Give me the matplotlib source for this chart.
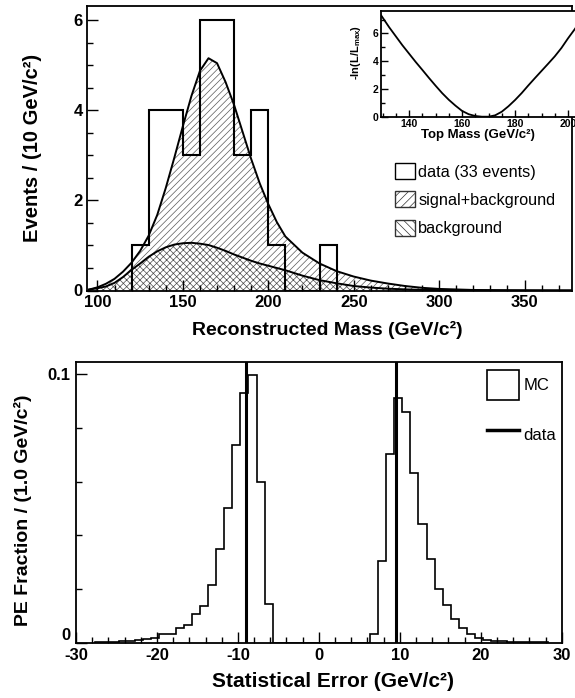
import numpy as np
import matplotlib
matplotlib.use("Agg")
import matplotlib.pyplot as plt
from matplotlib.patches import Patch
from matplotlib.lines import Line2D
from matplotlib.ticker import MultipleLocator

plt.rcParams["font.family"] = ["Liberation Sans", "DejaVu Sans"]
plt.rcParams["mathtext.fontset"] = "custom"
plt.rcParams["mathtext.rm"] = "Liberation Sans"
plt.rcParams["mathtext.bf"] = "Liberation Sans:bold"
plt.rcParams["axes.unicode_minus"] = False
plt.rcParams["hatch.linewidth"] = 0.5

# --- top panel: reconstructed mass of the 33 events, 10 GeV bins
mass_edges = [120, 130, 140, 150, 160, 170, 180, 190, 200, 210, 220, 230, 240]
mass_counts = [1, 4, 4, 3, 6, 6, 3, 4, 1, 0, 0, 1]

# fitted shapes
fit_mass = [95, 100, 105, 110, 115, 120, 125, 130, 135, 140, 145, 150, 155, 160,
            165, 170, 175, 180, 185, 190, 195, 200, 205, 210, 220, 230, 240, 250,
            260, 270, 280, 290, 300, 320, 340, 360, 380]
fit_sb = [0.02, 0.07, 0.15, 0.26, 0.42, 0.62, 0.88, 1.22, 1.68, 2.28, 2.95, 3.65,
          4.32, 4.88, 5.16, 5.05, 4.63, 4.12, 3.52, 2.92, 2.38, 1.92, 1.52, 1.2,
          0.84, 0.6, 0.43, 0.31, 0.22, 0.155, 0.1, 0.06, 0.035, 0.012, 0.005,
          0.002, 0.001]
fit_bg = [0.02, 0.05, 0.09, 0.17, 0.3, 0.46, 0.6, 0.75, 0.87, 0.96, 1.02, 1.05,
          1.06, 1.04, 1.01, 0.95, 0.88, 0.8, 0.73, 0.66, 0.6, 0.55, 0.5, 0.45,
          0.33, 0.23, 0.16, 0.1, 0.065, 0.04, 0.025, 0.015, 0.01, 0.004, 0.002,
          0.001, 0.0]

# inset: -ln(L/Lmax) vs top mass
lik_mass = [129.5, 132.5, 135, 137.5, 140, 142.5, 145, 147.5, 150, 152.5, 155,
            157.5, 160, 162.5, 165, 167.5, 170, 172.5, 175, 177.5, 180, 182.5,
            185, 187.5, 190, 192.5, 195, 197.5, 200, 202.5, 205]
lik_nll = [7.3, 6.45, 5.8, 5.15, 4.55, 3.95, 3.38, 2.8, 2.24, 1.7, 1.22, 0.8,
           0.42, 0.18, 0.05, 0.0, 0.0, 0.1, 0.36, 0.75, 1.2, 1.7, 2.25, 2.78,
           3.3, 3.82, 4.35, 4.95, 5.65, 6.3, 7.0]

# --- bottom panel: statistical error from pseudo-experiments, 1 GeV bins
err_edges = np.arange(-28, 29) + 0.3
mc_frac = [0.0003, 0.0003, 0.0004, 0.0005, 0.0007, 0.001, 0.0014, 0.0019,
           0.0031, 0.0031, 0.0056, 0.0065, 0.0108, 0.0135, 0.0216, 0.0347,
           0.050, 0.0735, 0.0928, 0.0996, 0.0598, 0.0143,
           0, 0, 0, 0, 0, 0, 0, 0, 0, 0, 0, 0,
           0.0031, 0.0304, 0.0703, 0.0912, 0.086, 0.0633, 0.0443, 0.0313,
           0.0201, 0.0139, 0.0089, 0.0056, 0.0031, 0.0019, 0.0009, 0.0007,
           0.0005, 0.0004, 0.0003, 0.0002, 0.0002, 0.0001]
data_err = [-9.0, 9.5]

W, H = 575, 698
fig = plt.figure(figsize=(W / 100, H / 100), dpi=100)


def px_rect(l, t, r, b):
    return [l / W, 1 - b / H, (r - l) / W, (b - t) / H]


def style_ticks(ax, size, pad):
    ax.tick_params(which="both", direction="in", top=False, right=False,
                   labelsize=size, pad=pad, width=1.0)
    ax.tick_params(which="major", length=8)
    ax.tick_params(which="minor", length=4)
    for lab in ax.get_xticklabels() + ax.get_yticklabels():
        lab.set_fontweight("bold")
    for sp in ax.spines.values():
        sp.set_linewidth(1.3)


# ---------------- top panel
ax = fig.add_axes(px_rect(86.7, 6, 572, 290.5))
ax.fill_between(fit_mass, 0, fit_sb, facecolor="white", edgecolor="0.35",
                hatch="/////", linewidth=0)
ax.fill_between(fit_mass, 0, fit_bg, facecolor="white", edgecolor="0.3",
                hatch="xxxxx", linewidth=0)
ax.plot(fit_mass, fit_sb, color="black", lw=1.4)
ax.plot(fit_mass, fit_bg, color="black", lw=1.4)
ax.stairs(mass_counts, mass_edges, color="black", lw=1.5)
ax.set_xlim(93.7, 377.8)
ax.set_ylim(0, 6.32)
ax.xaxis.set_major_locator(MultipleLocator(50))
ax.xaxis.set_minor_locator(MultipleLocator(10))
ax.yaxis.set_major_locator(MultipleLocator(2))
ax.yaxis.set_minor_locator(MultipleLocator(0.5))
style_ticks(ax, 12, 3)
ax.set_xlabel("Reconstructed Mass (GeV/c²)", fontsize=14, fontweight="bold")
ax.set_ylabel("Events / (10 GeV/c²)", fontsize=14.5, fontweight="bold")
ax.xaxis.set_label_coords(0.495, -0.108)
ax.yaxis.set_label_coords(-0.092, 0.5)

handles = [Patch(facecolor="white", edgecolor="black", lw=1.0),
           Patch(facecolor="white", edgecolor="0.2", hatch="////", lw=1.0),
           Patch(facecolor="white", edgecolor="0.2", hatch="\\\\\\\\", lw=1.0)]
ax.legend(handles, ["data (33 events)", "signal+background", "background"],
          loc="upper left", bbox_to_anchor=(395 / W, 1 - 163 / H),
          bbox_transform=fig.transFigure, frameon=False, fontsize=11.7,
          handlelength=1.23, handleheight=1.15, handletextpad=0.2,
          labelspacing=0.72, borderpad=0, borderaxespad=0)

# ---------------- inset
axi = fig.add_axes(px_rect(381, 10.7, 585, 116.7))
axi.plot(lik_mass, lik_nll, color="black", lw=1.3)
axi.set_xlim(129.43, 206.4)
axi.set_ylim(0, 7.64)
axi.xaxis.set_major_locator(MultipleLocator(20))
axi.xaxis.set_minor_locator(MultipleLocator(5))
axi.yaxis.set_major_locator(MultipleLocator(2))
axi.yaxis.set_minor_locator(MultipleLocator(1))
style_ticks(axi, 7.5, 2)
axi.tick_params(which="major", length=5)
axi.tick_params(which="minor", length=3)
axi.set_xlabel("Top Mass (GeV/c²)", fontsize=9.5, fontweight="bold")
axi.set_ylabel(r"-ln(L/L$_{\mathbf{max}}$)", fontsize=8, fontweight="bold")
axi.xaxis.set_label_coords(0.475, -0.12)
axi.yaxis.set_label_coords(-0.09, 0.61)

# ---------------- bottom panel
axb = fig.add_axes(px_rect(76, 361.7, 561.7, 642.7))
axb.stairs(mc_frac, err_edges, color="black", lw=1.2)
for v in data_err:
    axb.axvline(v, color="black", lw=2.2)
axb.set_xlim(-30, 30)
axb.set_ylim(0, 0.1046)
axb.xaxis.set_major_locator(MultipleLocator(10))
axb.xaxis.set_minor_locator(MultipleLocator(2))
axb.set_yticks([0, 0.1])
axb.set_yticklabels(["0", "0.1"])
axb.yaxis.set_minor_locator(MultipleLocator(0.02))
style_ticks(axb, 12, 4)
# lift the "0" so it clears the "-30" below it
axb.yaxis.get_major_ticks()[0].label1.set_va("bottom")
axb.set_xlabel("Statistical Error (GeV/c²)", fontsize=15, fontweight="bold")
axb.set_ylabel("PE Fraction / (1.0 GeV/c²)", fontsize=14, fontweight="bold")
axb.xaxis.set_label_coords(0.529, -0.104)
axb.yaxis.set_label_coords(-0.091, 0.47)

hb = [Patch(facecolor="white", edgecolor="black", lw=1.2),
      Line2D([], [], color="black", lw=2.5)]
axb.legend(hb, ["MC", "data"], loc="upper left",
           bbox_to_anchor=(486.7 / W, 1 - 370 / H),
           bbox_transform=fig.transFigure, frameon=False, fontsize=12,
           handlelength=1.92, handleheight=2.4, handletextpad=0.3,
           labelspacing=1.2, borderpad=0, borderaxespad=0)

fig.savefig("out.png", dpi=100)
